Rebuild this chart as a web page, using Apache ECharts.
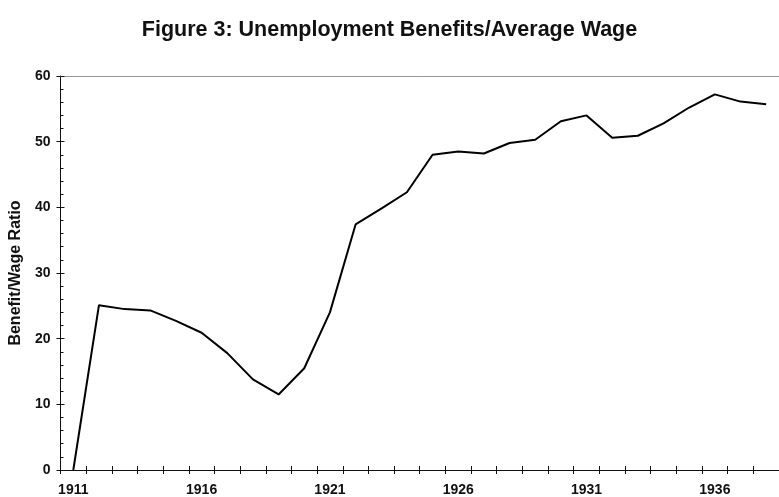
<!DOCTYPE html>
<html>
<head>
<meta charset="utf-8">
<script src="https://cdn.jsdelivr.net/npm/echarts@6/dist/echarts.min.js"></script>
<style>
html,body{margin:0;padding:0;background:#fff;}
#c{width:779px;height:497px;}
</style>
</head>
<body>
<div id="c"></div>
<script>
var titleText = 'Figure 3: Unemployment Benefits/Average Wage';
var yAxisName = 'Benefit/Wage Ratio';
var years = ['1911','1912','1913','1914','1915','1916','1917','1918','1919','1920',
             '1921','1922','1923','1924','1925','1926','1927','1928','1929','1930',
             '1931','1932','1933','1934','1935','1936','1937','1938'];
var ratio = [0, 25.1, 24.5, 24.3, 22.7, 20.9, 17.8, 13.8, 11.5, 15.5,
             24.0, 37.4, 39.8, 42.3, 48.0, 48.5, 48.2, 49.8, 50.3, 53.1,
             54.0, 50.6, 50.9, 52.8, 55.2, 57.2, 56.1, 55.7];

var FONT = '"Liberation Sans", Arial, Helvetica, sans-serif';
var chart = echarts.init(document.getElementById('c'), null, {renderer: 'canvas'});
var option = {
  animation: false,
  backgroundColor: '#ffffff',
  title: {
    text: titleText,
    left: 'center',
    top: 14,
    textStyle: {fontFamily: FONT, fontWeight: 'bold', fontSize: 21.5, color: '#111'}
  },
  grid: {left: 60, top: 76, width: 723, height: 396, containLabel: false},
  xAxis: [
    {
      type: 'category', data: years, position: 'bottom', boundaryGap: true,
      axisLine: {show: true, lineStyle: {color: '#111', width: 1}},
      axisTick: {show: true, inside: false, length: 4, interval: 0, lineStyle: {color: '#111'}},
      axisLabel: {show: true, interval: 4, margin: 13, color: '#111',
                  fontFamily: FONT, fontWeight: 'bold', fontSize: 14},
      splitLine: {show: false}
    },
    {
      type: 'category', data: years, position: 'bottom', boundaryGap: true,
      axisLine: {show: false},
      axisTick: {show: true, inside: true, length: 4, interval: 0, lineStyle: {color: '#111'}},
      axisLabel: {show: false},
      splitLine: {show: false}
    },
    {
      type: 'category', data: years, position: 'top', boundaryGap: true,
      axisLine: {show: true, lineStyle: {color: '#999', width: 1}},
      axisTick: {show: false},
      axisLabel: {show: false},
      splitLine: {show: false}
    }
  ],
  yAxis: [
    {
      type: 'value', min: 0, max: 60, interval: 10, position: 'left',
      name: yAxisName, nameLocation: 'middle', nameGap: 36, nameRotate: 90,
      nameTextStyle: {fontFamily: FONT, fontWeight: 'bold', fontSize: 16, color: '#111'},
      axisLine: {show: true, lineStyle: {color: '#111', width: 1}},
      axisTick: {show: true, inside: false, length: 4, lineStyle: {color: '#111'}},
      axisLabel: {show: true, margin: 10, color: '#111',
                  fontFamily: FONT, fontWeight: 'bold', fontSize: 14},
      splitLine: {show: false}
    },
    {
      type: 'value', min: 0, max: 60, interval: 10, position: 'left',
      axisLine: {show: false},
      axisTick: {show: true, inside: true, length: 4, lineStyle: {color: '#111'}},
      minorTick: {show: true, splitNumber: 5, length: 3, lineStyle: {color: '#111'}},
      axisLabel: {show: false},
      splitLine: {show: false}
    }
  ],
  series: [{
    type: 'line', data: ratio, xAxisIndex: 0, yAxisIndex: 0,
    symbol: 'none', smooth: false,
    lineStyle: {color: '#000', width: 2}
  }]
};
chart.setOption(option);
</script>
</body>
</html>
